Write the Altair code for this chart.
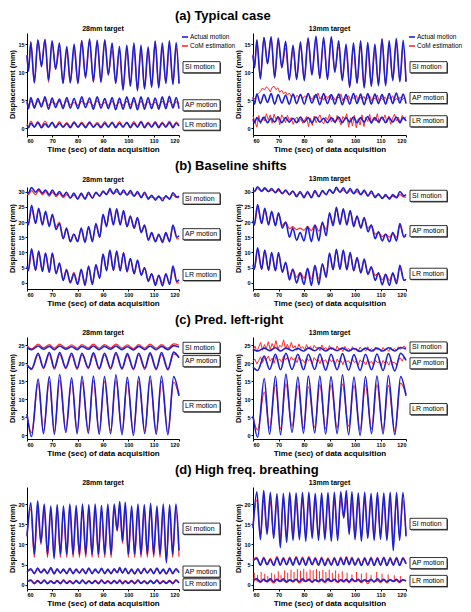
import altair as alt
import pandas as pd

FONT = "Liberation Sans"
BLUE = "#1f1fd2"
RED = "#ff2b2b"

X_TICKS = [60, 70, 80, 90, 100, 110, 120]

# ---------------- Row (a) Typical case ----------------
TA = [60.0, 60.6, 61.5, 62.9, 64.3, 65.7, 67.1, 68.5, 69.9, 71.3,
      72.8, 74.2, 75.7, 77.1, 78.6, 80.1, 81.6, 83.1, 84.7, 86.2,
      87.7, 89.2, 90.7, 92.1, 93.6, 95.0, 96.5, 97.9, 99.4, 100.8,
      102.2, 103.6, 105.0, 106.4, 107.8, 109.2, 110.6, 112.0, 113.4, 114.8,
      116.2, 117.6, 118.9, 120.0]
A28_SI = [13.0, 10.2, 15.3, 8.2, 15.8, 11.0, 15.8, 8.6, 15.6, 10.5,
          15.2, 8.0, 14.6, 8.2, 15.0, 8.0, 15.6, 9.0, 15.9, 8.4,
          15.7, 8.2, 15.8, 9.5, 15.2, 8.0, 14.6, 6.8, 14.8, 7.5,
          15.2, 6.7, 14.8, 7.0, 14.5, 7.3, 15.5, 7.2, 15.2, 8.0,
          15.6, 7.8, 15.3, 8.0]
A28_SI_C = [13.0, 10.5, 15.5, 8.0, 15.6, 11.2, 15.9, 8.2, 15.3, 10.7,
            14.0, 8.1, 13.8, 8.0, 14.2, 8.1, 15.7, 9.2, 15.5, 8.2,
            15.4, 8.4, 15.6, 9.7, 14.0, 8.2, 13.8, 7.0, 14.0, 7.7,
            14.3, 6.9, 14.0, 7.2, 13.6, 7.5, 15.6, 7.4, 14.2, 8.2,
            14.6, 8.0, 14.4, 8.0]
A28_AP = [4.8, 3.5, 5.5, 3.6, 5.3, 3.8, 5.6, 3.4, 5.4, 3.7,
          5.2, 3.5, 5.5, 3.6, 5.3, 3.5, 5.6, 3.7, 5.4, 3.4,
          5.6, 3.6, 5.3, 3.5, 5.5, 3.3, 5.4, 3.4, 5.6, 3.5,
          5.5, 3.3, 5.6, 3.4, 5.5, 3.5, 5.4, 3.4, 5.6, 3.5,
          5.7, 3.6, 5.5, 3.5]
A28_AP_C = [4.6, 4.2, 4.9, 4.0, 4.8, 4.3, 5.0, 4.1, 4.7, 4.3,
            4.8, 4.0, 4.9, 4.2, 4.6, 4.1, 4.8, 4.3, 4.7, 4.0,
            4.9, 4.2, 4.6, 4.1, 4.8, 4.0, 4.7, 4.1, 4.8, 4.2,
            4.9, 4.0, 4.8, 4.1, 4.7, 4.2, 4.6, 4.0, 4.8, 4.2,
            4.9, 4.1, 4.7, 4.3]
A28_LR = [0.6, 0.1, 0.9, 0.2, 1.0, 0.1, 0.8, 0.2, 1.0, 0.1,
          0.9, 0.2, 0.8, 0.1, 1.0, 0.2, 0.9, 0.1, 1.0, 0.2,
          0.8, 0.1, 0.9, 0.2, 1.0, 0.1, 0.9, 0.2, 1.0, 0.1,
          0.9, 0.2, 1.1, 0.1, 0.9, 0.2, 1.0, 0.1, 0.9, 0.2,
          1.0, 0.1, 0.9, 0.4]
A28_LR_C = [0.8, 0.3, 1.3, 0.3, 1.2, 0.3, 1.3, 0.3, 1.1, 0.3,
            1.2, 0.3, 1.0, 0.3, 1.2, 0.3, 1.1, 0.3, 1.2, 0.3,
            1.0, 0.3, 1.2, 0.3, 1.1, 0.3, 1.2, 0.3, 1.1, 0.3,
            1.2, 0.3, 1.3, 0.3, 1.1, 0.3, 1.2, 0.3, 1.1, 0.3,
            1.3, 0.3, 1.1, 0.5]
A13_SI = [13.0, 10.8, 15.8, 8.8, 16.2, 11.5, 16.3, 9.0, 16.1, 10.8,
          15.5, 8.6, 14.8, 8.7, 15.4, 8.5, 16.0, 9.5, 16.4, 8.9,
          16.2, 8.7, 16.3, 10.0, 15.6, 8.5, 15.0, 7.3, 15.2, 8.0,
          15.6, 7.2, 15.3, 7.5, 15.0, 7.6, 15.9, 7.6, 15.6, 8.5,
          16.0, 8.3, 15.7, 8.3]
A13_SI_C = [13.2, 11.0, 15.6, 9.0, 16.2, 11.6, 16.0, 9.2, 15.3, 11.0,
            14.3, 8.8, 14.0, 8.9, 14.5, 8.8, 16.2, 9.7, 15.8, 9.0,
            15.7, 9.0, 16.0, 10.2, 14.5, 8.7, 14.2, 7.5, 14.3, 8.2,
            14.6, 7.4, 14.4, 7.7, 14.0, 7.8, 16.0, 7.8, 14.6, 8.7,
            15.0, 8.5, 14.8, 8.4]
A13_AP = [5.5, 4.3, 6.1, 4.4, 6.0, 4.6, 6.2, 4.3, 6.0, 4.5,
          5.9, 4.3, 6.1, 4.4, 6.0, 4.3, 6.2, 4.5, 6.0, 4.2,
          6.2, 4.4, 6.0, 4.3, 6.1, 4.2, 6.0, 4.3, 6.2, 4.4,
          6.1, 4.2, 6.2, 4.3, 6.1, 4.4, 6.0, 4.3, 6.2, 4.4,
          6.3, 4.5, 6.1, 4.4]
A13_LR = [1.6, 1.0, 1.9, 1.1, 2.0, 1.0, 1.8, 1.1, 2.0, 1.0,
          1.9, 1.1, 1.8, 1.0, 2.0, 1.1, 1.9, 1.0, 2.0, 1.1,
          1.8, 1.0, 1.9, 1.1, 2.0, 1.0, 1.9, 1.1, 2.0, 1.0,
          1.9, 1.1, 2.1, 1.0, 1.9, 1.1, 2.0, 1.0, 1.9, 1.1,
          2.0, 1.0, 1.9, 1.3]

# sampling times of the noisy CoM estimates (every 0.75 s)
TN = [60 + 0.75 * i for i in range(81)]
A13_AP_C = [5.6, 5.2, 5.9, 6.3, 6.6, 7.2, 6.8, 7.4, 7.1, 6.5,
            7.3, 7.5, 6.9, 7.2, 6.4, 6.8, 6.1, 6.5, 5.9, 6.3,
            5.6, 6.1, 5.3, 5.9, 5.5, 6.0, 5.2, 5.8, 5.4, 6.2,
            5.5, 5.1, 5.9, 5.4, 6.3, 5.2, 5.7, 5.0, 5.8, 5.3,
            5.9, 5.1, 5.6, 5.0, 5.7, 5.4, 6.1, 4.9, 5.6, 5.2,
            5.8, 5.0, 5.5, 5.3, 5.9, 4.8, 5.6, 5.1, 5.7, 5.0,
            5.4, 5.8, 4.9, 5.5, 5.2, 5.9, 4.8, 5.4, 5.1, 5.6,
            5.0, 5.5, 5.2, 5.8, 4.9, 5.3, 5.0, 5.6, 5.1, 5.4, 5.0]
A13_LR_C = [2.2, 1.2, 0.2, 2.3, 0.8, 2.0, 1.3, 2.6, 1.5, 2.4,
            0.9, 2.5, 1.6, 2.2, 0.6, 2.4, 1.8, 1.0, 2.3, 1.4,
            1.9, 0.7, 1.6, 2.0, 1.1, 1.7, 0.9, 1.5, 2.1, 0.3,
            1.8, 0.5, 2.2, 1.0, 1.7, 2.4, 1.2, 0.8, 2.0, 1.5,
            2.5, 1.1, 1.8, 0.9, 2.3, 1.4, 0.6, 2.1, 1.6, 2.6,
            0.2, 1.9, 0.4, 2.3, 0.1, 1.7, 0.6, 2.4, 0.3, 2.0,
            1.2, 2.5, 0.8, 1.9, 1.3, 2.6, 0.9, 2.0, 1.5, 2.4,
            1.1, 2.2, 0.7, 1.8, 2.5, 1.3, 2.0, 0.9, 2.3, 1.6, 2.1]

# ---------------- Row (b) Baseline shifts ----------------
TB = [60.0, 60.5, 61.8, 63.4, 64.6, 66.1, 67.3, 68.8, 70.0, 71.5,
      72.8, 74.3, 75.6, 77.1, 78.5, 80.0, 81.4, 82.9, 84.3, 85.8,
      87.2, 88.7, 90.0, 91.4, 92.7, 94.1, 95.4, 96.8, 98.1, 99.5,
      100.8, 102.3, 103.6, 105.1, 106.4, 107.9, 109.2, 110.7, 112.0, 113.5,
      114.8, 116.3, 117.6, 119.2, 120.0]
B28_SI = [30.0, 29.5, 31.3, 29.8, 30.8, 29.5, 30.5, 29.0, 30.5, 28.8,
          30.0, 28.5, 29.8, 27.8, 29.5, 27.5, 29.5, 27.5, 29.8, 27.8,
          29.8, 28.5, 30.2, 29.0, 31.0, 29.3, 30.8, 29.0, 30.5, 28.8,
          30.3, 28.5, 30.0, 28.0, 29.8, 27.5, 28.8, 27.2, 28.5, 27.0,
          28.6, 27.5, 29.6, 28.2, 28.5]
B28_SI_C = [29.0, 29.0, 30.3, 29.0, 30.3, 29.0, 30.0, 28.5, 29.8, 28.3,
            29.5, 28.0, 29.0, 28.0, 28.8, 27.8, 29.0, 27.8, 29.2, 28.0,
            29.5, 28.5, 29.8, 29.0, 30.3, 29.2, 30.0, 29.0, 29.8, 29.0,
            29.6, 28.5, 29.5, 28.3, 29.2, 28.0, 28.2, 27.8, 28.2, 27.8,
            28.3, 27.8, 28.8, 28.0, 28.0]
B28_AP = [20.0, 19.0, 25.5, 19.5, 24.5, 19.0, 23.5, 18.5, 22.5, 17.5,
          19.5, 14.5, 18.0, 13.5, 16.0, 13.5, 18.0, 13.3, 18.5, 13.5,
          19.5, 15.0, 22.5, 18.5, 24.5, 19.0, 24.3, 19.0, 23.8, 18.5,
          22.0, 18.0, 21.5, 16.5, 19.0, 14.0, 16.5, 13.5, 16.0, 13.3,
          16.5, 13.5, 19.0, 15.0, 15.5]
B28_AP_C = [20.0, 19.5, 24.0, 19.8, 24.0, 19.5, 23.0, 19.0, 22.0, 18.5,
            20.0, 14.5, 17.5, 14.0, 16.0, 14.0, 17.5, 13.8, 18.0, 14.0,
            19.0, 15.0, 22.0, 19.0, 23.5, 19.5, 23.5, 19.5, 23.0, 18.5,
            21.5, 18.0, 21.0, 17.0, 18.5, 14.5, 16.0, 14.0, 15.5, 14.0,
            16.0, 14.0, 18.5, 14.5, 14.5]
B28_LR = [5.5, 4.0, 11.2, 4.2, 10.5, 3.8, 9.8, 3.5, 9.8, 3.0,
          6.5, 0.8, 4.2, 0.0, 3.0, -0.5, 4.5, -0.8, 5.5, -0.5,
          6.0, 1.5, 9.5, 4.0, 10.8, 4.2, 10.5, 4.0, 9.8, 3.8,
          8.0, 3.0, 7.5, 2.5, 5.0, 0.5, 3.0, -0.8, 2.5, -1.0,
          3.0, -0.5, 5.5, 0.5, 1.0]
B28_LR_C = [5.0, 4.0, 10.0, 4.0, 10.0, 3.7, 9.8, 3.5, 9.8, 3.2,
            6.0, 1.0, 4.5, 0.5, 3.5, 0.0, 4.0, 0.0, 5.0, 0.2,
            5.5, 1.8, 9.5, 4.2, 10.2, 4.0, 10.0, 4.0, 10.0, 3.5,
            8.0, 3.0, 7.0, 2.8, 5.0, 1.0, 3.0, 0.0, 2.5, 0.0,
            2.8, 0.0, 4.5, 0.0, 0.0]
B13_SI = [30.5, 30.0, 31.6, 30.2, 31.2, 30.0, 31.0, 29.6, 30.9, 29.3,
          30.5, 29.0, 30.2, 28.3, 30.0, 28.0, 30.0, 28.0, 30.3, 28.3,
          30.3, 29.0, 30.7, 29.5, 31.4, 29.8, 31.2, 29.5, 31.0, 29.3,
          30.8, 29.0, 30.5, 28.5, 30.2, 28.0, 29.3, 27.7, 29.0, 27.5,
          29.0, 28.0, 30.0, 28.6, 29.0]
B13_SI_C = [30.0, 30.0, 31.0, 30.0, 30.8, 30.0, 30.5, 29.8, 30.3, 29.5,
            30.2, 29.0, 30.0, 28.8, 29.5, 28.5, 29.5, 28.3, 29.8, 28.5,
            30.0, 29.0, 30.5, 29.5, 30.8, 29.8, 30.5, 29.5, 30.3, 29.3,
            30.0, 29.0, 30.0, 28.8, 29.5, 28.5, 28.8, 28.0, 28.5, 28.0,
            28.5, 28.0, 29.0, 28.2, 28.2]
B13_AP = [20.5, 19.0, 25.7, 19.5, 24.5, 19.0, 23.5, 18.8, 23.0, 18.0,
          20.0, 15.0, 18.0, 14.0, 16.5, 13.8, 18.5, 13.5, 19.0, 13.8,
          20.0, 15.5, 23.0, 18.8, 24.8, 19.2, 24.3, 19.0, 23.8, 18.5,
          22.0, 18.0, 21.5, 16.8, 19.0, 14.5, 16.8, 13.8, 16.0, 13.5,
          16.5, 13.8, 19.5, 15.0, 16.0]
B13_AP_C = [19.5, 19.0, 24.5, 19.5, 24.0, 19.5, 23.0, 19.2, 22.5, 19.0,
            20.0, 17.8, 18.5, 17.5, 18.0, 17.3, 18.5, 17.2, 19.0, 17.0,
            19.5, 17.5, 22.5, 19.5, 24.0, 19.8, 23.8, 19.5, 23.5, 19.3,
            21.5, 18.5, 21.0, 18.0, 19.0, 16.0, 16.5, 15.2, 16.0, 15.0,
            16.2, 15.0, 19.0, 15.2, 15.5]
B13_LR = [6.0, 4.5, 11.5, 4.5, 10.8, 4.2, 10.0, 4.0, 10.0, 3.5,
          6.8, 1.0, 4.5, 0.0, 3.2, -0.5, 4.8, -0.8, 5.8, -0.5,
          6.3, 1.8, 9.8, 4.3, 11.0, 4.5, 10.8, 4.3, 10.0, 4.0,
          8.3, 3.3, 7.8, 2.8, 5.3, 0.8, 3.3, -0.6, 2.8, -0.8,
          3.3, -0.3, 5.8, 0.8, 1.2]
B13_LR_C = [5.0, 4.5, 10.5, 4.5, 10.5, 4.2, 9.8, 4.0, 9.5, 3.8,
            6.5, 2.0, 4.5, 1.8, 3.5, 1.5, 4.5, 1.2, 5.5, 1.2,
            6.0, 2.5, 9.5, 4.5, 10.5, 4.5, 10.5, 4.3, 9.8, 4.0,
            8.0, 3.5, 7.5, 3.0, 5.0, 2.5, 3.0, 1.0, 2.8, 0.8,
            3.0, 0.8, 5.0, 1.0, 1.0]

# ---------------- Row (c) Pred. left-right ----------------
TC = [60.0, 61.8, 64.4, 66.5, 68.8, 70.8, 72.9, 75.3, 77.6, 79.8,
      81.7, 84.2, 86.2, 88.5, 90.6, 93.0, 95.1, 97.5, 99.6, 102.0,
      104.1, 106.5, 108.6, 111.0, 113.1, 115.6, 117.9, 120.0]
C28_SI = [24.3, 23.8, 24.8, 23.9, 24.7, 23.8, 24.8, 23.9, 24.6, 23.8,
          24.7, 23.9, 24.8, 23.8, 24.7, 23.9, 24.8, 23.8, 24.6, 23.7,
          24.7, 23.8, 24.8, 23.8, 24.7, 23.8, 24.9, 24.5]
C28_SI_C = [24.8, 24.0, 25.3, 24.3, 25.2, 24.2, 25.3, 24.3, 25.1, 24.2,
            25.2, 24.3, 25.3, 24.2, 25.2, 24.3, 25.3, 24.2, 25.1, 24.1,
            25.2, 24.2, 25.3, 24.2, 25.2, 24.2, 25.4, 25.0]
C28_AP = [19.5, 18.5, 22.8, 18.8, 23.0, 18.7, 23.0, 18.8, 22.8, 18.7,
          22.8, 18.8, 22.9, 18.6, 22.8, 18.7, 23.0, 18.6, 22.7, 18.5,
          22.8, 18.7, 22.9, 18.5, 23.0, 18.4, 23.1, 21.5]
C28_AP_C = [19.8, 18.2, 22.3, 18.5, 22.5, 18.3, 22.5, 18.5, 22.3, 18.3,
            22.3, 18.5, 22.4, 18.3, 22.3, 18.3, 22.5, 18.3, 22.2, 18.2,
            22.3, 18.3, 22.4, 18.2, 22.5, 18.1, 22.6, 21.8]
C28_LR = [6.0, -0.3, 15.6, 0.5, 16.3, 0.3, 16.9, 0.8, 16.0, 0.5,
          16.4, 0.6, 16.5, 0.3, 16.3, 0.5, 16.8, 0.2, 16.1, 0.0,
          16.3, 0.5, 16.5, 0.3, 16.5, 0.2, 16.3, 11.0]
C28_LR_C = [5.5, 0.8, 14.5, 1.2, 15.0, 1.0, 15.3, 1.5, 15.0, 1.2,
            15.0, 1.3, 15.2, 1.0, 15.0, 1.2, 15.3, 1.0, 14.8, 0.8,
            15.0, 1.2, 15.3, 1.0, 15.0, 1.0, 14.8, 11.0]
C13_SI = [23.9, 23.4, 24.2, 23.5, 24.3, 23.4, 24.2, 23.5, 24.1, 23.4,
          24.2, 23.5, 24.3, 23.4, 24.2, 23.5, 24.2, 23.4, 24.1, 23.3,
          24.2, 23.4, 24.2, 23.4, 24.3, 23.4, 24.4, 24.0]
C13_AP = [19.0, 18.0, 22.0, 18.3, 22.5, 18.2, 22.8, 18.3, 22.5, 18.2,
          22.5, 18.3, 22.6, 18.1, 22.5, 18.2, 22.7, 18.1, 22.4, 18.0,
          22.5, 18.2, 22.6, 18.0, 22.7, 17.9, 22.8, 20.8]
C13_LR = [5.5, -0.5, 15.8, 0.3, 16.4, 0.2, 17.0, 0.8, 16.2, 0.6,
          16.5, 0.7, 16.5, 0.4, 16.3, 0.5, 16.8, 0.2, 16.2, 0.0,
          16.3, 0.5, 16.5, 0.4, 16.6, 0.2, 16.3, 11.0]
C13_LR_C = [5.0, 1.5, 12.0, 2.0, 14.0, 1.8, 14.2, 2.5, 13.8, 2.0,
            13.5, 2.2, 14.0, 1.8, 14.0, 2.0, 14.2, 2.5, 13.8, 1.5,
            14.0, 1.8, 14.0, 1.5, 13.8, 1.2, 14.5, 11.5]
C13_SI_C = [23.5, 24.8, 23.2, 24.5, 25.8, 23.6, 25.2, 24.0, 26.0, 23.8,
            25.5, 24.2, 26.3, 23.9, 25.0, 24.5, 26.5, 24.0, 25.3, 23.8,
            25.8, 24.2, 24.9, 23.6, 25.4, 24.1, 24.6, 23.7, 25.2, 24.0,
            24.7, 23.6, 25.0, 24.2, 24.5, 23.5, 25.1, 23.9, 24.4, 23.5,
            24.9, 23.8, 24.3, 23.4, 24.8, 23.9, 24.2, 23.3, 24.7, 23.8,
            24.1, 23.4, 24.6, 23.7, 24.2, 23.3, 24.5, 23.8, 24.0, 23.4,
            24.6, 23.6, 24.1, 23.3, 24.5, 23.7, 24.0, 23.2, 24.4, 23.6,
            24.0, 23.3, 24.5, 23.7, 24.1, 23.5, 24.6, 23.9, 24.3, 24.8, 24.2]
C13_AP_C = [20.5, 21.2, 19.8, 20.8, 21.8, 20.2, 21.5, 21.0, 22.0, 20.6,
            21.4, 20.0, 21.9, 20.8, 21.2, 20.3, 22.1, 21.0, 21.6, 20.4,
            21.8, 20.9, 21.3, 20.2, 21.7, 20.6, 21.0, 20.1, 21.5, 20.7,
            21.2, 20.0, 21.6, 20.8, 21.1, 19.9, 21.4, 20.5, 21.0, 19.8,
            21.3, 20.4, 20.9, 19.7, 21.2, 20.3, 20.8, 19.6, 21.1, 20.5,
            20.7, 19.8, 21.2, 20.2, 20.6, 19.5, 21.0, 20.3, 20.5, 19.6,
            21.0, 20.1, 20.6, 19.5, 20.9, 20.2, 20.4, 19.4, 20.8, 20.0,
            20.5, 19.5, 20.9, 20.2, 20.3, 19.5, 20.8, 21.5, 20.6, 21.8, 21.2]

# ---------------- Row (d) High freq. breathing ----------------
TD = [60.0, 61.5, 62.9, 64.2, 65.5, 66.8, 68.1, 69.4, 70.7, 71.9,
      73.2, 74.4, 75.7, 76.9, 78.2, 79.4, 80.7, 81.9, 83.2, 84.4,
      85.7, 86.9, 88.2, 89.4, 90.7, 91.9, 93.2, 94.4, 95.6, 96.6,
      97.7, 98.8, 100.0, 101.3, 102.5, 103.8, 105.0, 106.3, 107.5, 108.8,
      110.0, 111.3, 112.5, 113.8, 115.0, 116.3, 117.5, 118.8, 120.0]
D28_SI = [12.0, 20.3, 7.6, 20.8, 10.5, 20.0, 7.6, 19.5, 6.5, 19.8,
          7.6, 19.5, 7.6, 20.0, 7.6, 19.6, 7.6, 20.0, 7.6, 19.8,
          7.6, 20.0, 7.6, 19.6, 7.6, 20.0, 7.6, 20.0, 13.5, 20.6,
          10.8, 20.4, 7.6, 19.5, 7.6, 20.0, 7.6, 19.8, 7.6, 20.2,
          7.6, 19.5, 7.6, 20.0, 5.5, 19.8, 7.6, 20.0, 8.5]
D28_SI_C = [12.5, 18.8, 6.8, 18.8, 10.0, 18.8, 6.8, 18.5, 7.0, 18.8,
            6.8, 18.5, 6.8, 18.8, 6.8, 18.5, 6.8, 18.8, 6.8, 18.6,
            6.8, 18.8, 6.8, 18.5, 6.8, 18.8, 6.8, 18.8, 13.3, 19.0,
            10.3, 19.0, 6.8, 18.5, 6.8, 18.8, 6.8, 18.6, 6.8, 19.0,
            6.8, 18.5, 6.8, 18.8, 6.0, 18.6, 6.8, 18.8, 7.0]
D28_AP = [3.2, 4.0, 2.8, 4.2, 3.0, 3.9, 2.8, 4.3, 2.7, 4.0,
          2.9, 3.9, 2.8, 4.1, 2.8, 3.9, 2.9, 4.0, 2.8, 4.2,
          2.8, 3.9, 2.9, 4.1, 2.8, 3.9, 2.8, 4.0, 3.0, 4.3,
          2.9, 4.1, 2.8, 3.9, 2.7, 4.0, 2.8, 4.1, 2.9, 4.0,
          2.8, 4.2, 2.8, 3.9, 2.7, 4.1, 2.8, 4.0, 3.0]
D28_AP_C = [3.3, 3.7, 3.0, 3.8, 3.1, 3.6, 3.0, 3.9, 3.0, 3.7,
            3.1, 3.6, 3.0, 3.8, 3.0, 3.6, 3.1, 3.7, 3.0, 3.9,
            3.0, 3.6, 3.1, 3.8, 3.0, 3.6, 3.0, 3.7, 3.2, 3.9,
            3.1, 3.8, 3.0, 3.6, 2.9, 3.7, 3.0, 3.8, 3.1, 3.7,
            3.0, 3.9, 3.0, 3.6, 2.9, 3.8, 3.0, 3.7, 3.1]
D28_LR = [0.8, 1.1, 0.3, 1.0, 0.4, 1.1, 0.3, 0.9, 0.4, 1.0,
          0.3, 1.1, 0.4, 0.9, 0.3, 1.0, 0.4, 1.1, 0.3, 0.9,
          0.4, 1.0, 0.3, 1.1, 0.4, 0.9, 0.3, 1.0, 0.4, 1.1,
          0.3, 0.9, 0.4, 1.0, 0.3, 1.1, 0.4, 0.9, 0.3, 1.0,
          0.4, 1.1, 0.3, 0.9, 0.4, 1.0, 0.3, 1.1, 0.5]
D28_LR_C = [0.9, 1.3, 0.5, 1.2, 0.5, 1.3, 0.5, 1.1, 0.5, 1.2,
            0.5, 1.3, 0.5, 1.1, 0.5, 1.2, 0.5, 1.3, 0.5, 1.1,
            0.5, 1.2, 0.5, 1.3, 0.5, 1.1, 0.5, 1.2, 0.5, 1.3,
            0.5, 1.1, 0.5, 1.2, 0.5, 1.3, 0.5, 1.1, 0.5, 1.2,
            0.5, 1.3, 0.5, 1.1, 0.5, 1.2, 0.5, 1.3, 0.6]
D13_SI = [14.0, 23.0, 11.2, 23.3, 12.5, 22.8, 11.5, 22.5, 9.2, 22.6,
          10.5, 22.8, 11.0, 22.7, 11.2, 22.8, 10.8, 22.9, 11.5, 22.6,
          11.0, 22.7, 11.2, 22.8, 10.8, 22.9, 11.0, 23.0, 16.5, 23.3,
          12.5, 23.0, 11.2, 22.7, 10.8, 22.9, 11.5, 22.6, 11.0, 22.8,
          11.3, 22.7, 11.0, 22.9, 8.5, 22.8, 11.0, 22.8, 12.0]
D13_SI_C = [14.5, 21.0, 12.3, 21.2, 13.0, 20.8, 12.3, 20.8, 11.5, 20.8,
            12.0, 21.0, 12.2, 20.8, 12.2, 21.0, 12.0, 21.0, 12.3, 20.8,
            12.0, 20.8, 12.2, 21.0, 12.0, 21.0, 12.0, 21.2, 16.8, 21.0,
            13.0, 21.0, 12.3, 20.8, 12.0, 21.0, 12.3, 20.8, 12.0, 21.0,
            12.3, 20.8, 12.0, 21.0, 11.0, 20.8, 12.0, 21.0, 12.5]
D13_AP = [6.0, 6.5, 4.9, 6.6, 5.0, 6.3, 4.8, 6.7, 4.9, 6.5,
          5.0, 6.6, 4.9, 6.8, 5.0, 6.6, 4.9, 6.7, 5.0, 6.5,
          4.9, 6.6, 4.8, 6.4, 4.9, 6.5, 4.8, 6.6, 5.0, 6.8,
          5.0, 6.6, 4.9, 6.4, 4.8, 6.5, 4.9, 6.6, 4.8, 6.5,
          4.9, 6.7, 4.8, 6.5, 4.9, 6.6, 4.8, 6.5, 5.2]
D13_AP_C = [6.3, 6.8, 5.0, 6.9, 5.1, 6.6, 5.0, 7.0, 5.0, 6.8,
            5.1, 6.9, 5.0, 7.0, 5.1, 6.9, 5.0, 7.0, 5.1, 6.8,
            5.0, 6.9, 5.0, 6.7, 5.0, 6.8, 5.0, 6.9, 5.1, 7.0,
            5.1, 6.9, 5.0, 6.7, 4.9, 6.8, 5.0, 6.9, 4.9, 6.8,
            5.0, 6.9, 4.9, 6.8, 5.0, 6.9, 4.9, 6.8, 5.3]
D13_LR = [1.2, 1.5, 0.8, 1.4, 0.9, 1.5, 0.8, 1.4, 0.9, 1.5,
          0.8, 1.3, 0.9, 1.4, 0.8, 1.5, 0.9, 1.4, 0.8, 1.3,
          0.9, 1.4, 0.8, 1.5, 0.9, 1.4, 0.8, 1.3, 0.9, 1.4,
          0.8, 1.5, 0.9, 1.4, 0.8, 1.3, 0.9, 1.4, 0.8, 1.5,
          0.9, 1.4, 0.8, 1.3, 0.9, 1.4, 0.8, 1.3, 1.0]
D13_LR_C = [1.5, 1.2, 0.6, 1.3, 0.7, 1.2, 0.5, 1.3, 0.8, 1.1,
            0.6, 1.2, 0.7, 1.3, 0.5, 1.1, 0.8, 1.2, 0.6, 1.3,
            0.7, 1.1, 0.5, 1.2, 0.8, 1.3, 0.6, 1.1, 0.7, 1.2,
            0.5, 1.3, 0.8, 1.1, 0.6, 1.2, 0.3, 1.3, 0.7, 1.1,
            0.6, 1.2, 0.5, 1.3, 0.8, 1.1, 0.6, 1.2, 0.9]
D13_SPIKE_T = [60.5, 61.8, 63.2, 64.6, 65.8, 67.3, 68.5, 69.9, 71.0, 72.4,
               73.6, 74.9, 76.1, 77.4, 78.6, 79.9, 81.1, 82.4, 83.6, 84.9,
               86.1, 87.4, 88.6, 89.9, 91.1, 92.4, 93.6, 95.0, 96.9, 98.8,
               100.6, 102.5, 104.4, 106.3, 108.5, 110.6, 113.0, 115.4, 117.8]
D13_SPIKE_V = [3.0, 2.5, 3.2, 2.8, 2.2, 3.0, 2.6, 3.4, 2.4, 3.6,
               3.0, 3.8, 3.2, 3.9, 3.5, 4.0, 3.3, 3.8, 3.6, 3.9,
               3.4, 3.7, 3.2, 3.8, 3.0, 3.6, 2.8, 3.4, 3.0, 2.6,
               3.2, 2.8, 3.0, 2.5, 3.2, 2.8, 2.6, 2.4, 2.2]

LABELS = ["SI motion", "AP motion", "LR motion"]

BOX_SHAPE = "M-1,-0.3L1,-0.3L1,0.3L-1,0.3Z"
BOX_W = 37


def panel(title, T, traces, ydom, yticks, label_pos, w, h=102,
          noisy=(), spikes=None, legend=False):
    xs = alt.X("t:Q", scale=alt.Scale(domain=[60, 120], nice=False, zero=False),
               axis=alt.Axis(values=X_TICKS, title="Time (sec) of data acquisition",
                             format="d", grid=False, tickSize=2, labelFontSize=5.5,
                             labelFontWeight="bold", labelPadding=1, titleFontSize=8,
                             titleFontWeight="bold", titlePadding=2))
    ys = alt.Y("v:Q", scale=alt.Scale(domain=ydom, nice=False, zero=False),
               axis=alt.Axis(values=yticks, title="Displacement  (mm)", grid=False,
                             tickSize=2, labelFontSize=5.5, labelFontWeight="bold",
                             labelPadding=1, titleFontSize=7.5, titleFontWeight="bold",
                             titlePadding=1))
    blue_rows, red_rows = [], []
    for name, (b, r) in traces.items():
        blue_rows.append(pd.DataFrame({"t": T, "v": b, "trace": name}))
        if r is not None:
            red_rows.append(pd.DataFrame({"t": T, "v": r, "trace": name}))
    layers = []
    if red_rows:
        layers.append(alt.Chart(pd.concat(red_rows)).mark_line(
            color=RED, strokeWidth=1.2, interpolate="monotone").encode(
            x=xs, y=ys, detail="trace:N"))
    if noisy:
        nrows = [pd.DataFrame({"t": tt, "v": vv, "trace": nm}) for nm, tt, vv in noisy]
        layers.append(alt.Chart(pd.concat(nrows)).mark_line(
            color=RED, strokeWidth=1.0).encode(x=xs, y=ys, detail="trace:N"))
    if spikes is not None:
        st, sv, base = spikes
        sdf = pd.DataFrame({"t": st, "v": sv, "b": [base] * len(st)})
        layers.append(alt.Chart(sdf).mark_rule(color=RED, strokeWidth=1.0).encode(
            x=xs, y=ys, y2="b:Q"))
    layers.append(alt.Chart(pd.concat(blue_rows)).mark_line(
        color=BLUE, strokeWidth=1.6, interpolate="monotone").encode(
        x=xs, y=ys, detail="trace:N"))

    ldf = pd.DataFrame({"lab": LABELS, "v": label_pos})
    cx = w + 4 + BOX_W / 2
    layers.append(alt.Chart(ldf).mark_point(
        shape=BOX_SHAPE, size=BOX_W * BOX_W, filled=True, color="#555555",
        opacity=1, xOffset=1, yOffset=1).encode(x=alt.value(cx), y=ys))
    layers.append(alt.Chart(ldf).mark_point(
        shape=BOX_SHAPE, size=BOX_W * BOX_W, filled=True, fill="white",
        stroke="black", strokeWidth=0.8, opacity=1).encode(x=alt.value(cx), y=ys))
    layers.append(alt.Chart(ldf).mark_text(
        align="left", baseline="middle", fontSize=7, font=FONT, color="black").encode(
        x=alt.value(w + 6), y=ys, text="lab:N"))

    if legend:
        one = pd.DataFrame({"k": [0]})
        for lab, col, yy in (("Actual motion", BLUE, 4), ("CoM estimation", RED, 13)):
            layers.append(alt.Chart(one).mark_rule(color=col, strokeWidth=1.6).encode(
                x=alt.value(w + 3), x2=alt.value(w + 9), y=alt.value(yy)))
            layers.append(alt.Chart(one).mark_text(
                align="left", baseline="middle", fontSize=6.5, font=FONT,
                color="black", text=lab).encode(x=alt.value(w + 11), y=alt.value(yy)))

    return alt.layer(*layers).properties(
        width=w, height=h,
        title=alt.TitleParams(title, fontSize=7, fontWeight="bold", font=FONT,
                              anchor="middle", offset=1))


WL, WR = 152, 153


def row(title, left, right):
    return alt.hconcat(left, right, spacing=74, bounds="flush",
                       title=alt.TitleParams(title, fontSize=13, fontWeight="bold",
                                             font=FONT, anchor="start", frame="bounds",
                                             dx=166, offset=2))


rowA = row("(a) Typical case",
           panel("28mm target", TA,
                 {"SI": (A28_SI, A28_SI_C), "AP": (A28_AP, A28_AP_C), "LR": (A28_LR, A28_LR_C)},
                 [-1.2, 17], [0, 5, 10, 15], [10.9, 4.1, 0.65], WL, legend=True),
           panel("13mm target", TA,
                 {"SI": (A13_SI, A13_SI_C), "AP": (A13_AP, None), "LR": (A13_LR, None)},
                 [-1.2, 17], [0, 5, 10, 15], [10.9, 5.4, 1.25], WR, legend=True,
                 noisy=[("AP", TN, A13_AP_C), ("LR", TN, A13_LR_C)]))

rowB = row("(b) Baseline shifts",
           panel("28mm target", TB,
                 {"SI": (B28_SI, B28_SI_C), "AP": (B28_AP, B28_AP_C), "LR": (B28_LR, B28_LR_C)},
                 [-2, 31.5], [0, 5, 10, 15, 20, 25, 30], [27.7, 16.0, 2.6], WL),
           panel("13mm target", TB,
                 {"SI": (B13_SI, B13_SI_C), "AP": (B13_AP, B13_AP_C), "LR": (B13_LR, B13_LR_C)},
                 [-2, 31.5], [0, 5, 10, 15, 20, 25, 30], [28.6, 17.0, 3.0], WR))

rowC = row("(c) Pred. left-right",
           panel("28mm target", TC,
                 {"SI": (C28_SI, C28_SI_C), "AP": (C28_AP, C28_AP_C), "LR": (C28_LR, C28_LR_C)},
                 [-1, 27.3], [0, 5, 10, 15, 20, 25], [24.3, 20.6, 8.1], WL),
           panel("13mm target", TC,
                 {"SI": (C13_SI, None), "AP": (C13_AP, None), "LR": (C13_LR, C13_LR_C)},
                 [-1, 27.3], [0, 5, 10, 15, 20, 25], [24.4, 20.0, 7.3], WR,
                 noisy=[("SI", TN, C13_SI_C), ("AP", TN, C13_AP_C)]))

rowD = row("(d) High freq. breathing",
           panel("28mm target", TD,
                 {"SI": (D28_SI, D28_SI_C), "AP": (D28_AP, D28_AP_C), "LR": (D28_LR, D28_LR_C)},
                 [-1, 24.2], [0, 5, 10, 15, 20], [13.9, 3.3, 0.15], WL),
           panel("13mm target", TD,
                 {"SI": (D13_SI, D13_SI_C), "AP": (D13_AP, D13_AP_C), "LR": (D13_LR, D13_LR_C)},
                 [-1, 24.2], [0, 5, 10, 15, 20], [15.1, 5.4, 1.0], WR,
                 spikes=(D13_SPIKE_T, D13_SPIKE_V, 0.8)))

chart = alt.vconcat(rowA, rowB, rowC, rowD, spacing=6).properties(
    padding={"left": 0, "right": 0, "top": 2, "bottom": 0}
).configure_view(stroke=None).configure_axis(
    domainColor="black", tickColor="black", labelColor="black", titleColor="black",
    labelFont=FONT, titleFont=FONT, domainWidth=1, tickWidth=1
).configure_title(font=FONT, color="black")

chart.save("out.html", embed_options={"renderer": "svg", "actions": False})
